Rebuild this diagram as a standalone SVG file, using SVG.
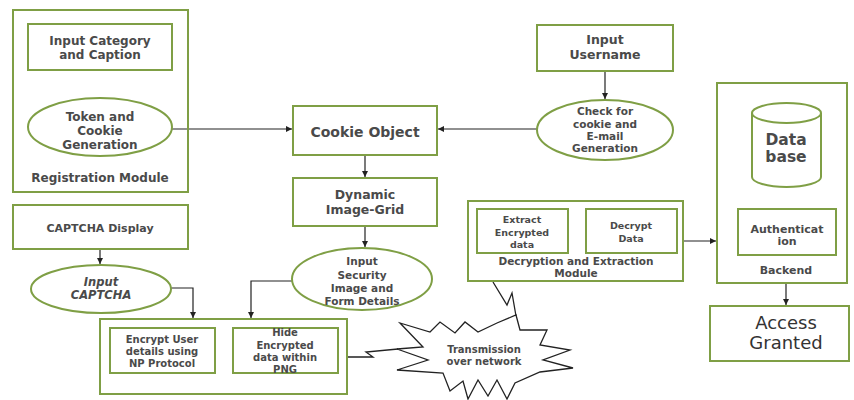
<svg xmlns="http://www.w3.org/2000/svg" width="854" height="400" viewBox="0 0 854 400">
<defs>
<marker id="arr" markerWidth="8" markerHeight="8" refX="6" refY="3" orient="auto" markerUnits="userSpaceOnUse">
<path d="M0,0 L6,3 L0,6 Z" fill="#222"/>
</marker>
<style>
.box{fill:#fff;stroke:#7f9f45;stroke-width:2}
.box2{fill:none;stroke:#7f9f45;stroke-width:2}
.t{font-family:"DejaVu Sans",Verdana,sans-serif;font-weight:bold;fill:#4a4a4a;text-anchor:middle}
.big{font-weight:normal;fill:#333}
.c{fill:none;stroke:#222;stroke-width:1.2}
.z{fill:none;stroke:#222;stroke-width:1.3;stroke-linejoin:miter}
</style>
</defs>
<rect width="854" height="400" fill="#fff"/>

<g id="connectors">
<line class="c" x1="172" y1="129" x2="292" y2="129" marker-end="url(#arr)"/>
<line class="c" x1="537" y1="129" x2="438" y2="129" marker-end="url(#arr)"/>
<line class="c" x1="605" y1="71" x2="605" y2="99" marker-end="url(#arr)"/>
<line class="c" x1="365" y1="155" x2="365" y2="177" marker-end="url(#arr)"/>
<line class="c" x1="365" y1="226" x2="365" y2="247" marker-end="url(#arr)"/>
<line class="c" x1="100" y1="249" x2="100" y2="264" marker-end="url(#arr)"/>
<polyline class="c" points="171,288 193,288 193,318" marker-end="url(#arr)"/>
<polyline class="c" points="293,281 251,281 251,318" marker-end="url(#arr)"/>
<line class="c" x1="683" y1="241" x2="716" y2="241" marker-end="url(#arr)"/>
<line class="c" x1="786" y1="283" x2="786" y2="305" marker-end="url(#arr)"/>
<polyline class="z" points="347,357 373,357 366,352 398,349"/>
<polyline class="z" points="493,282 507,305 512,293 516,316"/>
</g>

<g id="registration-module">
<rect class="box2" x="13" y="10" width="175" height="182"/>
<text class="t" x="100" y="182" font-size="12">Registration Module</text>
</g>
<g id="input-category">
<rect class="box" x="28" y="24" width="144" height="46"/>
<text class="t" x="100" y="45" font-size="12">Input Category</text>
<text class="t" x="100" y="59" font-size="12">and Caption</text>
</g>
<g id="token-cookie">
<ellipse class="box" cx="100" cy="127" rx="72" ry="29"/>
<text class="t" x="100" y="121" font-size="12">Token and</text>
<text class="t" x="100" y="135" font-size="12">Cookie</text>
<text class="t" x="100" y="149" font-size="12">Generation</text>
</g>

<g id="cookie-object">
<rect class="box" x="293" y="106" width="144" height="49"/>
<text class="t" x="365" y="137" font-size="14">Cookie Object</text>
</g>
<g id="dynamic-grid">
<rect class="box" x="293" y="178" width="144" height="48"/>
<text class="t" x="365" y="199" font-size="12.5">Dynamic</text>
<text class="t" x="365" y="214" font-size="12.5">Image-Grid</text>
</g>
<g id="input-security">
<ellipse class="box" cx="362" cy="279" rx="70" ry="31"/>
<text class="t" x="362" y="265" font-size="10.5">Input</text>
<text class="t" x="362" y="279" font-size="10.5">Security</text>
<text class="t" x="362" y="292" font-size="10.5">Image and</text>
<text class="t" x="362" y="305" font-size="10.5">Form Details</text>
</g>

<g id="input-username">
<rect class="box" x="537" y="25" width="136" height="46"/>
<text class="t" x="605" y="44" font-size="12.5">Input</text>
<text class="t" x="605" y="59" font-size="12.5">Username</text>
</g>
<g id="check-cookie">
<ellipse class="box" cx="605" cy="130" rx="68" ry="30"/>
<text class="t" x="605" y="115" font-size="10.5">Check for</text>
<text class="t" x="605" y="128" font-size="10.5">cookie and</text>
<text class="t" x="605" y="140" font-size="10.5">E-mail</text>
<text class="t" x="605" y="152" font-size="10.5">Generation</text>
</g>

<g id="backend">
<rect class="box2" x="717" y="83" width="130" height="200"/>
<text class="t" x="786" y="274" font-size="11">Backend</text>
</g>
<g id="database">
<path class="box" d="M752,113 A34.5,10 0 0 1 821,113 V177 A34.5,10 0 0 1 752,177 Z"/>
<path class="box2" d="M752,113 A34.5,10 0 0 0 821,113"/>
<text class="t" x="786" y="145" font-size="15.5">Data</text>
<text class="t" x="786" y="162" font-size="15.5">base</text>
</g>
<g id="authentication">
<rect class="box" x="738" y="209" width="98" height="46"/>
<text class="t" x="787" y="233" font-size="11">Authenticat</text>
<text class="t" x="787" y="245" font-size="11">ion</text>
</g>
<g id="access-granted">
<rect class="box" x="710" y="306" width="139" height="55"/>
<text class="t big" x="786" y="329" font-size="18">Access</text>
<text class="t big" x="786" y="349" font-size="18">Granted</text>
</g>

<g id="decryption-module">
<rect class="box2" x="468" y="201" width="215" height="80"/>
<text class="t" x="576" y="265" font-size="10.5">Decryption and Extraction</text>
<text class="t" x="576" y="277" font-size="10.5">Module</text>
</g>
<g id="extract-data">
<rect class="box" x="477" y="209" width="91" height="44"/>
<text class="t" x="522" y="223" font-size="9.5">Extract</text>
<text class="t" x="522" y="236" font-size="9.5">Encrypted</text>
<text class="t" x="522" y="248" font-size="9.5">data</text>
</g>
<g id="decrypt-data">
<rect class="box" x="586" y="209" width="91" height="44"/>
<text class="t" x="631" y="229" font-size="9.5">Decrypt</text>
<text class="t" x="631" y="242" font-size="9.5">Data</text>
</g>

<g id="captcha-display">
<rect class="box" x="13" y="205" width="175" height="44"/>
<text class="t" x="100" y="232" font-size="11">CAPTCHA Display</text>
</g>
<g id="input-captcha">
<ellipse class="box" cx="101" cy="289" rx="70" ry="24"/>
<text class="t" x="101" y="286" font-size="11.5" font-style="italic">Input</text>
<text class="t" x="101" y="299" font-size="11.5" font-style="italic">CAPTCHA</text>
</g>

<g id="encrypt-module">
<rect class="box2" x="100" y="319" width="247" height="75"/>
</g>
<g id="encrypt-user">
<rect class="box" x="110" y="328" width="105" height="45"/>
<text class="t" x="162" y="343" font-size="10">Encrypt User</text>
<text class="t" x="162" y="355" font-size="10">details using</text>
<text class="t" x="162" y="367" font-size="10">NP Protocol</text>
</g>
<g id="hide-png">
<rect class="box" x="233" y="328" width="105" height="45"/>
<text class="t" x="285" y="336" font-size="10">Hide</text>
<text class="t" x="285" y="349" font-size="10">Encrypted</text>
<text class="t" x="285" y="361" font-size="10">data within</text>
<text class="t" x="285" y="373" font-size="10">PNG</text>
</g>

<g id="transmission">
<polygon class="z" fill="#fff" points="400,323 430,332 440,322 455,333 465,322 478,332 497,323 516,315 520,330 547,330 540,345 570,350 543,360 573,368 540,372 515,383 507,399 497,380 488,396 478,380 468,399 463,381 450,391 443,373 397,370 428,360 397,349 423,347"/>
<text class="t" x="484" y="353" font-size="10">Transmission</text>
<text class="t" x="484" y="365" font-size="10">over network</text>
</g>
</svg>
